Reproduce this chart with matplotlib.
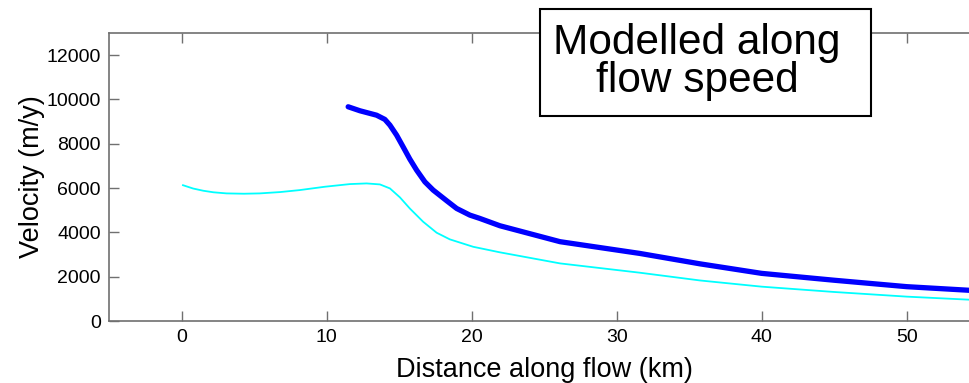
import matplotlib.pyplot as plt
from matplotlib.patches import Rectangle

# distance along flow (km) and modelled speed (m/y)
dist_thin = [0.1, 0.8, 1.5, 2.2, 3.1, 4.3, 5.4, 6.8, 8.16, 9.88, 11.61, 12.76,
             13.68, 14.37, 15.06, 15.74, 16.66, 17.59, 18.5, 20.11, 21.95,
             26.1, 31.6, 35.75, 40.0, 45.0, 50.0, 55.0]
speed_thin = [6130, 5980, 5880, 5810, 5760, 5745, 5760, 5820, 5910, 6060, 6180, 6210,
              6165, 5985, 5580, 5080, 4480, 3985, 3685, 3350, 3100,
              2600, 2180, 1830, 1550, 1310, 1100, 940]

dist_thick = [11.49, 12.3, 13.45, 14.02, 14.37, 14.83, 15.28, 15.74, 16.21, 16.78,
              17.35, 18.28, 18.97, 19.88, 20.57, 21.95, 26.1, 31.6, 35.75, 40.0,
              45.0, 50.0, 55.0]
speed_thick = [9670, 9490, 9290, 9100, 8840, 8390, 7860, 7310, 6810, 6280,
               5910, 5430, 5080, 4780, 4630, 4300, 3580, 3050, 2580, 2150,
               1840, 1550, 1360]

xticks = [0, 10, 20, 30, 40, 50]
yticks = [0, 2000, 4000, 6000, 8000, 10000, 12000]

plt.rcParams['font.family'] = ['Liberation Sans', 'DejaVu Sans']

fig = plt.figure(figsize=(9.69, 3.83), dpi=100)
W, H = 969, 383
ax = fig.add_axes([109 / W, 62 / H, 870.2 / W, 288 / H])

ax.plot(dist_thin, speed_thin, color='#00ffff', lw=1.3)
ax.plot(dist_thick, speed_thick, color='#0000ff', lw=3.8, solid_capstyle='round')

ax.set_xlim(-5, 55)
ax.set_ylim(0, 13000)
ax.set_xticks(xticks)
ax.set_yticks(yticks)
ax.tick_params(direction='in', length=7, width=1, color='#707070',
               labelsize=14, top=True, right=True, pad=6)
for s in ax.spines.values():
    s.set_color('#707070')
    s.set_linewidth(1.2)

ax.set_xlabel('Distance along flow (km)', fontsize=19.5, labelpad=8)
ax.set_ylabel('Velocity (m/y)', fontsize=19.5, labelpad=1)

# title box sitting over the top spine
box = Rectangle((540 / W, 1 - 115.5 / H), 331 / W, 106.5 / H, transform=fig.transFigure,
                facecolor='white', edgecolor='black', lw=1.5, zorder=5)
fig.add_artist(box)
fig.text(697 / W, 1 - 62 / H, 'Modelled along\nflow speed', ha='center', va='center',
         fontsize=30.5, linespacing=0.95, zorder=6)

fig.savefig('out.png', dpi=100)
